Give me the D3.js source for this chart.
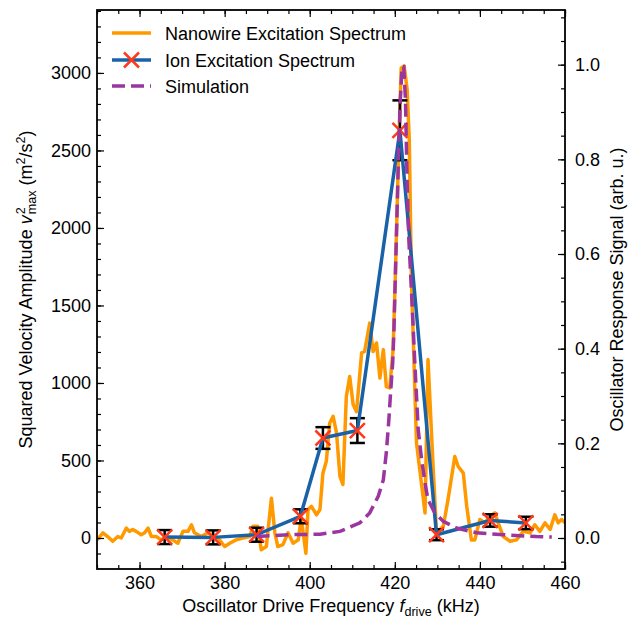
<!DOCTYPE html>
<html><head><meta charset="utf-8">
<script src="https://cdn.jsdelivr.net/npm/d3@7"></script>
<style>
html,body{margin:0;padding:0;background:#fff;}
text{font-family:"Liberation Sans",Arial,Helvetica,sans-serif;}
</style></head>
<body>
<svg id="chart" width="638" height="624"></svg>
<script>
// ---- Data ----
const ionFreq = [365.9, 377.3, 387.5, 397.8, 403.1, 411.2, 421.2, 429.8, 442.4, 450.8];
const ionAmp  = [6, 4, 21, 140, 645, 693, 2630, 21, 113, 97];
const ionErr  = [45, 45, 45, 45, 70, 80, 193, 35, 40, 40];

const nwFreq = [350.0,351.4,352.5,353.7,354.9,355.7,356.9,357.6,358.4,359.2,360.4,361.2,362.0,362.8,363.9,365.1,366.3,367.8,369.0,370.2,371.4,372.2,372.9,374.5,376.1,377.6,378.8,380.0,381.2,382.7,384.3,385.9,386.7,387.8,388.6,389.8,391.0,391.8,392.5,393.7,394.9,396.1,397.3,398.0,399.1,399.6,400.4,401.6,402.4,403.1,403.9,404.7,405.5,406.3,407.1,407.8,408.6,409.4,410.2,411.0,412.2,412.9,414.1,414.9,415.7,416.5,417.3,418.0,418.8,419.6,420.1,420.9,421.5,422.2,422.9,423.4,423.9,425.1,427.1,427.8,429.0,429.8,431.4,432.5,434.1,434.9,436.1,436.9,438.0,438.8,440.0,441.2,442.4,443.5,444.3,445.5,447.1,448.6,450.2,451.8,452.9,454.1,455.3,456.5,457.6,458.4,459.2,460.0];
const nwSignal = [-0.004,0.011,0.003,-0.007,0.003,0.000,0.021,0.014,0.018,0.014,0.007,0.011,0.021,0.003,0.003,-0.004,0.003,-0.004,-0.011,0.014,0.014,0.028,0.011,0.003,0.011,0.003,-0.004,-0.018,-0.011,-0.004,0.000,0.003,0.025,0.025,-0.025,-0.018,0.084,0.011,-0.018,-0.014,0.011,-0.011,-0.004,0.042,-0.032,0.060,0.067,0.049,0.060,0.137,0.162,0.243,0.257,0.222,0.130,0.113,0.299,0.341,0.282,0.267,0.391,0.394,0.454,0.394,0.412,0.338,0.398,0.320,0.317,0.398,0.546,0.820,0.993,0.997,0.947,0.841,0.546,0.201,0.053,0.377,0.151,0.011,0.025,0.081,0.172,0.151,0.137,0.067,-0.004,-0.004,0.039,0.032,0.046,0.053,0.032,0.003,-0.007,-0.004,0.014,0.011,0.028,0.014,0.032,0.018,0.049,0.032,0.039,0.032];

const simFreq = [387.5,395.3,402.4,407.1,411.8,414.1,416.1,417.3,418.0,418.6,419.0,419.5,419.8,420.1,420.5,420.9,421.3,421.7,422.1,422.5,422.9,423.3,423.9,424.7,425.5,426.3,427.1,427.8,429.4,431.4,434.5,439.2,445.5,453.3,456.9];
const simSignal = [0.003,0.007,0.008,0.014,0.032,0.053,0.088,0.123,0.180,0.250,0.306,0.370,0.440,0.545,0.679,0.820,0.926,0.996,0.996,0.926,0.750,0.630,0.525,0.370,0.229,0.165,0.116,0.081,0.053,0.035,0.021,0.011,0.007,0.003,0.002];

const xTicks = [360, 380, 400, 420, 440, 460];
const yLeftTicks = [0, 500, 1000, 1500, 2000, 2500, 3000];
const yRightTicks = [0.0, 0.2, 0.4, 0.6, 0.8, 1.0];
const legendLabels = ["Nanowire Excitation Spectrum", "Ion Excitation Spectrum", "Simulation"];

// ---- Layout ----
const M = {left: 97, right: 565, top: 10, bottom: 569};
const C = {orange: "#ff9900", blue: "#1a62a8", purple: "#9b35a0", red: "#ff3a1a"};
const FS = 18;

const svg = d3.select("#chart");
const x = d3.scaleLinear().domain([350, 460]).range([M.left, M.right]);
const yL = d3.scaleLinear().domain([-200, 3406]).range([M.bottom, M.top]);
const yR = d3.scaleLinear().domain([-0.0655, 1.1155]).range([M.bottom, M.top]);

svg.append("defs").append("clipPath").attr("id", "clip")
  .append("rect").attr("x", M.left).attr("y", M.top)
  .attr("width", M.right - M.left).attr("height", M.bottom - M.top);

const plot = svg.append("g").attr("clip-path", "url(#clip)");

// nanowire
const nw = nwFreq.map((f, i) => [f, nwSignal[i]]);
plot.append("path").datum(nw)
  .attr("d", d3.line().x(d => x(d[0])).y(d => yR(d[1])))
  .attr("fill", "none").attr("stroke", C.orange).attr("stroke-width", 3.5)
  .attr("stroke-linejoin", "round");

// ion error bars
const ion = ionFreq.map((f, i) => ({f, a: ionAmp[i], e: ionErr[i]}));
const eb = plot.append("g").attr("stroke", "#000").attr("stroke-width", 2.5);
ion.forEach(d => {
  eb.append("line").attr("x1", x(d.f)).attr("x2", x(d.f))
    .attr("y1", yL(d.a - d.e)).attr("y2", yL(d.a + d.e));
  [d.a - d.e, d.a + d.e].forEach(v => {
    eb.append("line").attr("x1", x(d.f) - 7.5).attr("x2", x(d.f) + 7.5)
      .attr("y1", yL(v)).attr("y2", yL(v));
  });
});

// ion line
plot.append("path").datum(ion)
  .attr("d", d3.line().x(d => x(d.f)).y(d => yL(d.a)))
  .attr("fill", "none").attr("stroke", C.blue).attr("stroke-width", 3.5)
  .attr("stroke-linejoin", "round");

// markers
function xMarker(g, cx, cy, s) {
  g.append("path").attr("d", `M${cx - s},${cy - s}L${cx + s},${cy + s}M${cx - s},${cy + s}L${cx + s},${cy - s}`)
    .attr("stroke", C.red).attr("stroke-width", 2.5).attr("fill", "none");
}
const mk = plot.append("g");
ion.forEach(d => xMarker(mk, x(d.f), yL(d.a), 7.5));

// simulation
const sim = simFreq.map((f, i) => [f, simSignal[i]]);
plot.append("path").datum(sim)
  .attr("d", d3.line().x(d => x(d[0])).y(d => yR(d[1])))
  .attr("fill", "none").attr("stroke", C.purple).attr("stroke-width", 3.5)
  .attr("stroke-dasharray", "13,6");

// ---- Axes ----
function styleAxis(g) {
  g.select(".domain").remove();
  g.selectAll(".tick line").attr("stroke", "#000").attr("stroke-width", 1.2);
  g.selectAll("text").attr("font-size", FS).attr("fill", "#000")
    .attr("font-family", "Liberation Sans, Arial, sans-serif");
}
const range = (a, b, s) => d3.range(Math.round(a / s), Math.round(b / s) + 1).map(k => +(k * s).toFixed(4));

// bottom
svg.append("g").attr("transform", `translate(0,${M.bottom})`)
  .call(d3.axisBottom(x).tickValues(range(350, 460, 5)).tickSize(-4).tickFormat(""))
  .call(styleAxis);
svg.append("g").attr("transform", `translate(0,${M.bottom})`)
  .call(d3.axisBottom(x).tickValues(xTicks).tickSize(-7).tickPadding(7).tickFormat(d3.format("d")))
  .call(styleAxis);
// top
svg.append("g").attr("transform", `translate(0,${M.top})`)
  .call(d3.axisTop(x).tickValues(range(350, 460, 5)).tickSize(-4).tickFormat(""))
  .call(styleAxis);
svg.append("g").attr("transform", `translate(0,${M.top})`)
  .call(d3.axisTop(x).tickValues(xTicks).tickSize(-7).tickFormat(""))
  .call(styleAxis);
// left
svg.append("g").attr("transform", `translate(${M.left},0)`)
  .call(d3.axisLeft(yL).tickValues(range(-100, 3400, 100)).tickSize(-4).tickFormat(""))
  .call(styleAxis);
svg.append("g").attr("transform", `translate(${M.left},0)`)
  .call(d3.axisLeft(yL).tickValues(yLeftTicks).tickSize(-7).tickPadding(6).tickFormat(d3.format("d")))
  .call(styleAxis);
// right
svg.append("g").attr("transform", `translate(${M.right},0)`)
  .call(d3.axisRight(yR).tickValues(range(-0.05, 1.10, 0.05)).tickSize(-4).tickFormat(""))
  .call(styleAxis);
svg.append("g").attr("transform", `translate(${M.right},0)`)
  .call(d3.axisRight(yR).tickValues(yRightTicks).tickSize(-7).tickPadding(10).tickFormat(d3.format(".1f")))
  .call(styleAxis);

// frame
svg.append("rect").attr("x", M.left).attr("y", M.top)
  .attr("width", M.right - M.left).attr("height", M.bottom - M.top)
  .attr("fill", "none").attr("stroke", "#000").attr("stroke-width", 1.8);

// ---- Axis labels ----
const xl = svg.append("text").attr("x", (M.left + M.right) / 2).attr("y", 612)
  .attr("text-anchor", "middle").attr("font-size", FS);
xl.append("tspan").text("Oscillator Drive Frequency ");
xl.append("tspan").attr("font-style", "italic").text("f");
xl.append("tspan").attr("font-size", FS * 0.7).attr("dy", 4).text("drive");
xl.append("tspan").attr("dy", -4).text(" (kHz)");

const yl = svg.append("text").attr("transform", `translate(32,${(M.top + M.bottom) / 2}) rotate(-90)`)
  .attr("text-anchor", "middle").attr("font-size", FS);
yl.append("tspan").text("Squared Velocity Amplitude ");
yl.append("tspan").attr("font-style", "italic").text("v");
yl.append("tspan").attr("font-size", FS * 0.7).attr("dy", -7.5).attr("dx", 1).text("2");
yl.append("tspan").attr("font-size", FS * 0.7).attr("dy", 11.5).attr("dx", -7).text("max");
yl.append("tspan").attr("dy", -4).text(" (m");
yl.append("tspan").attr("font-size", FS * 0.7).attr("dy", -7.5).text("2");
yl.append("tspan").attr("dy", 7.5).text("/s");
yl.append("tspan").attr("font-size", FS * 0.7).attr("dy", -7.5).text("2");
yl.append("tspan").attr("dy", 7.5).text(")");

svg.append("text").attr("transform", `translate(623,${(M.top + M.bottom) / 2}) rotate(-90)`)
  .attr("text-anchor", "middle").attr("font-size", FS)
  .text("Oscillator Response Signal (arb. u.)");

// ---- Legend ----
const lg = svg.append("g");
const rowY = [33, 60, 86];
lg.append("line").attr("x1", 112).attr("x2", 151).attr("y1", rowY[0]).attr("y2", rowY[0])
  .attr("stroke", C.orange).attr("stroke-width", 3.5);
lg.append("line").attr("x1", 112).attr("x2", 151).attr("y1", rowY[1]).attr("y2", rowY[1])
  .attr("stroke", C.blue).attr("stroke-width", 3.5);
xMarker(lg, 131.5, rowY[1], 7.5);
lg.append("line").attr("x1", 112).attr("x2", 151).attr("y1", rowY[2]).attr("y2", rowY[2])
  .attr("stroke", C.purple).attr("stroke-width", 3.5).attr("stroke-dasharray", "13,6");
legendLabels.forEach((t, i) => {
  lg.append("text").attr("x", 165).attr("y", rowY[i] + 6.5).attr("font-size", FS).text(t);
});
</script>
</body></html>
